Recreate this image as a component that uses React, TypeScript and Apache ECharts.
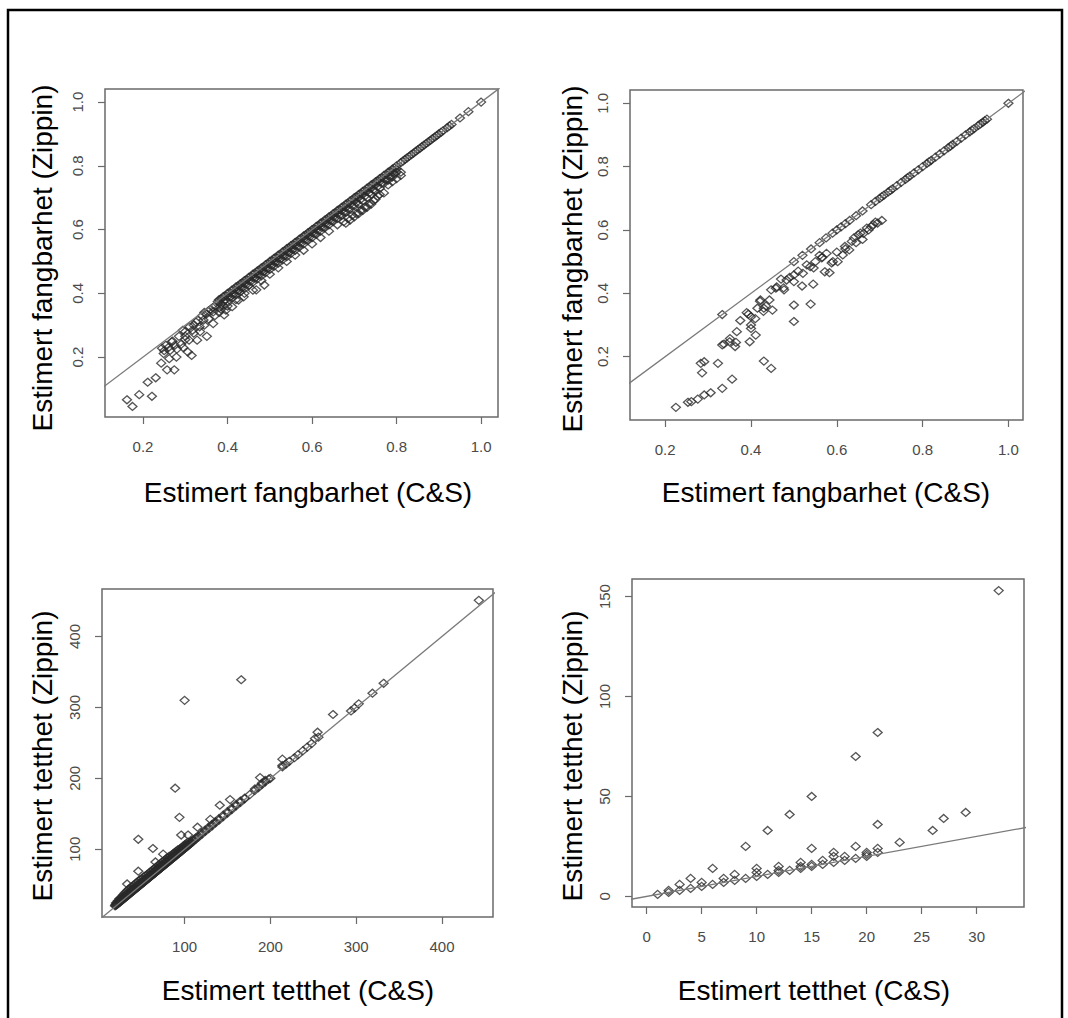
import React, { useEffect, useRef } from "react";
import * as echarts from "echarts";

// ---------- tick values ----------
const fangTicks = [0.2, 0.4, 0.6, 0.8, 1.0];
const tettTicksA = [100, 200, 300, 400];
const tettTicksBX = [0, 5, 10, 15, 20, 25, 30];
const tettTicksBY = [0, 50, 100, 150];

// ---------- titles ----------
const xTitleFang = "Estimert fangbarhet (C&S)";
const yTitleFang = "Estimert fangbarhet (Zippin)";
const xTitleTett = "Estimert tetthet (C&S)";
const yTitleTett = "Estimert tetthet (Zippin)";

// ---------- panel 1: fangbarhet (top-left) ----------
const p1Low: [number, number][] = [
  [0.162, 0.066], [0.175, 0.045], [0.191, 0.082], [0.221, 0.077], [0.211, 0.121], [0.23, 0.135],
  [0.257, 0.16], [0.274, 0.16], [0.243, 0.181], [0.262, 0.195], [0.249, 0.211], [0.264, 0.221],
  [0.279, 0.2], [0.275, 0.237], [0.254, 0.237], [0.245, 0.228], [0.268, 0.248], [0.294, 0.284],
  [0.306, 0.216], [0.315, 0.205], [0.309, 0.253], [0.328, 0.253], [0.351, 0.265], [0.317, 0.284],
  [0.334, 0.295], [0.343, 0.316], [0.366, 0.305], [0.377, 0.374], [0.366, 0.342], [0.392, 0.332],
  [0.396, 0.347], [0.411, 0.358], [0.426, 0.379], [0.438, 0.389], [0.468, 0.411], [0.487, 0.426],
  [0.285, 0.265], [0.3, 0.28], [0.31, 0.295], [0.32, 0.3], [0.33, 0.315], [0.34, 0.33], [0.35, 0.335],
  [0.36, 0.35], [0.37, 0.36], [0.29, 0.24], [0.3, 0.255], [0.32, 0.275], [0.335, 0.28], [0.345, 0.3],
  [0.355, 0.32], [0.37, 0.33], [0.385, 0.35], [0.28, 0.225], [0.295, 0.23], [0.3, 0.265], [0.26, 0.23],
  [0.25, 0.22], [0.27, 0.25], [0.325, 0.31], [0.345, 0.34], [0.355, 0.345], [0.365, 0.355],
];
const p1Band: [number, number[]][] = [
  [0.38, [0.38, 0.37, 0.355, 0.34]], [0.39, [0.39, 0.375, 0.36]], [0.4, [0.4, 0.39, 0.375, 0.36]],
  [0.41, [0.41, 0.4, 0.385]], [0.42, [0.42, 0.41, 0.395, 0.38]], [0.43, [0.43, 0.42, 0.405]],
  [0.44, [0.44, 0.43, 0.415, 0.4]], [0.45, [0.45, 0.44, 0.425]], [0.46, [0.46, 0.45, 0.435, 0.41]],
  [0.47, [0.47, 0.46, 0.445]], [0.48, [0.48, 0.47, 0.455, 0.44]], [0.49, [0.49, 0.48, 0.465]],
  [0.5, [0.5, 0.49, 0.475, 0.46]], [0.51, [0.51, 0.5, 0.485]], [0.52, [0.52, 0.51, 0.495, 0.48]],
  [0.53, [0.53, 0.52, 0.505]], [0.54, [0.54, 0.53, 0.515, 0.5]], [0.55, [0.55, 0.54, 0.525]],
  [0.56, [0.56, 0.55, 0.535, 0.52]], [0.57, [0.57, 0.56, 0.545]], [0.58, [0.58, 0.57, 0.555, 0.535]],
  [0.59, [0.59, 0.58, 0.565]], [0.6, [0.6, 0.59, 0.575, 0.555]], [0.61, [0.61, 0.6, 0.585]],
  [0.62, [0.62, 0.61, 0.595, 0.575]], [0.63, [0.63, 0.62, 0.605]], [0.64, [0.64, 0.63, 0.615, 0.595]],
  [0.65, [0.65, 0.64, 0.625]], [0.66, [0.66, 0.65, 0.635, 0.615]], [0.67, [0.67, 0.66, 0.645]],
  [0.68, [0.68, 0.67, 0.655, 0.62]], [0.69, [0.69, 0.68, 0.665, 0.63]], [0.7, [0.7, 0.69, 0.675, 0.64]],
  [0.71, [0.71, 0.7, 0.68, 0.65]], [0.72, [0.72, 0.71, 0.69, 0.66]], [0.73, [0.73, 0.72, 0.7, 0.67]],
  [0.74, [0.74, 0.73, 0.71, 0.68]], [0.75, [0.75, 0.74, 0.72, 0.695]], [0.76, [0.76, 0.75, 0.73, 0.71]],
  [0.77, [0.77, 0.76, 0.745, 0.715]], [0.78, [0.78, 0.77, 0.755, 0.74]], [0.79, [0.79, 0.78, 0.765, 0.75]],
  [0.8, [0.8, 0.79, 0.78, 0.76]], [0.81, [0.81, 0.78, 0.77]],
];
const p1BandHalf: [number, number[]][] = [
  [0.385, [0.383, 0.365]], [0.395, [0.392, 0.38]], [0.405, [0.403, 0.388]], [0.415, [0.413, 0.398]],
  [0.425, [0.423, 0.408]], [0.435, [0.433, 0.418]], [0.445, [0.443, 0.428]], [0.455, [0.453, 0.438]],
  [0.465, [0.463, 0.448]], [0.475, [0.473, 0.458]], [0.485, [0.483, 0.468]], [0.495, [0.493, 0.478]],
  [0.505, [0.503, 0.488]], [0.515, [0.513, 0.498]], [0.525, [0.523, 0.508]], [0.535, [0.533, 0.518]],
  [0.545, [0.543, 0.528]], [0.555, [0.553, 0.538]], [0.565, [0.563, 0.548]], [0.575, [0.573, 0.558]],
  [0.585, [0.583, 0.568]], [0.595, [0.593, 0.578]], [0.605, [0.603, 0.588]], [0.615, [0.613, 0.598]],
  [0.625, [0.623, 0.608]], [0.635, [0.633, 0.618]], [0.645, [0.643, 0.628]], [0.655, [0.653, 0.638]],
  [0.665, [0.663, 0.645]], [0.675, [0.673, 0.655, 0.625]], [0.685, [0.683, 0.665, 0.635]],
  [0.695, [0.693, 0.675, 0.645]], [0.705, [0.703, 0.685, 0.65]], [0.715, [0.713, 0.695, 0.66]],
  [0.725, [0.723, 0.705, 0.67]], [0.735, [0.733, 0.715, 0.68]], [0.745, [0.743, 0.725, 0.69]],
  [0.755, [0.753, 0.735, 0.705]], [0.765, [0.763, 0.745]], [0.775, [0.773, 0.755]],
  [0.785, [0.783, 0.765]], [0.795, [0.793, 0.775]],
];
const p1Diag = [
  0.815, 0.82, 0.825, 0.83, 0.835, 0.84, 0.845, 0.85, 0.855, 0.86, 0.865, 0.87, 0.875, 0.88, 0.885, 0.89,
  0.895, 0.9, 0.905, 0.91, 0.92, 0.925, 0.93, 0.95, 0.97, 1.0,
];

// ---------- panel 2: fangbarhet (top-right) ----------
const p2Diag = [
  0.333, 0.5, 0.52, 0.54, 0.56, 0.575, 0.59, 0.6, 0.61, 0.62, 0.63, 0.645, 0.66, 0.68, 0.69, 0.7, 0.705,
  0.71, 0.72, 0.725, 0.73, 0.74, 0.75, 0.76, 0.765, 0.77, 0.78, 0.79, 0.8, 0.81, 0.815, 0.82, 0.83, 0.84,
  0.85, 0.86, 0.865, 0.87, 0.88, 0.89, 0.9, 0.91, 0.915, 0.92, 0.93, 0.935, 0.94, 0.945, 0.95, 1.0,
];
const p2Off: [number, number][] = [
  [0.225, 0.04], [0.253, 0.056], [0.261, 0.058], [0.276, 0.066], [0.291, 0.079], [0.306, 0.086],
  [0.333, 0.1], [0.356, 0.129], [0.286, 0.149], [0.283, 0.179], [0.291, 0.184], [0.323, 0.179],
  [0.43, 0.186], [0.447, 0.163], [0.333, 0.237], [0.337, 0.24], [0.363, 0.232], [0.35, 0.247],
  [0.367, 0.279], [0.375, 0.314], [0.397, 0.247], [0.411, 0.268], [0.4, 0.289], [0.4, 0.326],
  [0.39, 0.339], [0.415, 0.353], [0.43, 0.353], [0.422, 0.379], [0.45, 0.347], [0.443, 0.379],
  [0.447, 0.411], [0.458, 0.416], [0.477, 0.411], [0.483, 0.442], [0.5, 0.437], [0.5, 0.458],
  [0.5, 0.363], [0.5, 0.311], [0.539, 0.366], [0.519, 0.423], [0.521, 0.463], [0.545, 0.429],
  [0.538, 0.484], [0.566, 0.514], [0.572, 0.468], [0.576, 0.526], [0.583, 0.465], [0.591, 0.5],
  [0.602, 0.5], [0.614, 0.521], [0.629, 0.537], [0.619, 0.548], [0.635, 0.564], [0.65, 0.585],
  [0.662, 0.589], [0.67, 0.606], [0.674, 0.6], [0.685, 0.617], [0.695, 0.622], [0.705, 0.63],
  [0.66, 0.57], [0.645, 0.56], [0.365, 0.245], [0.351, 0.257], [0.394, 0.334], [0.421, 0.375],
  [0.429, 0.343], [0.476, 0.417], [0.546, 0.48], [0.565, 0.512], [0.588, 0.496], [0.4, 0.3],
  [0.41, 0.32], [0.435, 0.36], [0.46, 0.42], [0.47, 0.445], [0.49, 0.45], [0.51, 0.47], [0.53, 0.49],
  [0.55, 0.5], [0.56, 0.52], [0.6, 0.53], [0.62, 0.54], [0.64, 0.575], [0.655, 0.59], [0.68, 0.61],
  [0.69, 0.625],
];

// ---------- panel 3: tetthet (bottom-left) ----------
const p3Band: [number, number[]][] = [
  [19, [20, 21]], [20, [21, 22, 24]], [21, [22, 24]], [22, [23, 25, 27]], [23, [24, 26]], [24, [25, 28, 30]],
  [25, [26, 28]], [26, [27, 29, 32]], [27, [28, 31]], [28, [29, 31, 35]], [29, [30, 33]], [30, [31, 34, 38]],
  [31, [32, 35]], [32, [33, 36, 40]], [33, [34, 37]], [34, [35, 38, 43]], [35, [36, 39]], [36, [37, 40, 45]],
  [37, [38, 41]], [38, [39, 42, 47]], [39, [40, 43]], [40, [41, 44, 49]], [41, [42, 45]],
  [42, [43, 46, 50]], [43, [44, 47]], [44, [45, 48, 53]], [45, [46, 49]], [46, [47, 50, 55]], [47, [48, 51]],
  [48, [49, 52, 57]], [49, [50, 53]], [50, [51, 54, 58]], [51, [52, 55]],
  [52, [53, 56, 61]], [53, [54, 57]], [54, [55, 58, 62]], [55, [56, 59]], [56, [57, 60, 64]], [57, [58, 61]],
  [58, [59, 62, 66]], [59, [60, 63]], [60, [61, 64, 68]], [61, [62, 65]],
  [62, [63, 66, 70]], [63, [64, 67]], [64, [65, 68, 72]], [65, [66, 69]], [66, [67, 70, 74]], [67, [68, 71]],
  [68, [69, 72, 76]], [69, [70, 73]], [70, [71, 74, 78]], [71, [72, 75]],
  [72, [73, 76, 80]], [73, [74, 77]], [74, [75, 78, 82]], [75, [76, 79]], [76, [77, 80, 84]], [77, [78, 81]],
  [78, [79, 82, 86]], [79, [80, 83]], [80, [81, 84, 88]], [81, [82, 85]],
  [82, [83, 86, 90]], [83, [84, 87]], [84, [85, 88, 91]], [85, [86, 89]], [86, [87, 90, 93]], [87, [88, 91]],
  [88, [89, 92, 95]], [89, [90, 93]], [90, [91, 93, 97]], [91, [92, 94]],
  [92, [93, 95, 99]], [93, [94, 96]], [94, [95, 97, 100]], [95, [96, 98]], [96, [97, 99, 102]], [97, [98, 100]],
  [98, [99, 101, 104]], [99, [100, 102]], [100, [101, 103, 106]], [101, [102, 104]],
  [102, [103, 105, 108]], [103, [104, 106]], [104, [105, 107, 110]], [105, [106, 108]], [106, [107, 109]],
  [107, [108, 110]], [108, [109, 111]], [110, [111, 113]],
  [113, [114, 116]], [116, [117, 119]], [120, [121, 123]], [124, [125, 127]], [128, [129, 131]],
  [132, [133, 135]], [136, [137, 139]], [140, [141, 143]], [145, [146, 148]], [150, [151, 153]],
  [155, [156, 158]], [160, [161, 163]], [165, [166, 168]], [170, [171, 172]], [176, [177]], [182, [183, 185]],
  [186, [187]], [190, [191, 193]], [194, [195, 197]], [198, [199]], [200, [200]], [214, [216, 218]],
  [218, [220]], [222, [224]], [228, [229]], [232, [233]], [238, [239]], [243, [244]], [248, [249]],
  [252, [256]], [256, [258]], [294, [295]], [298, [299]], [303, [305]], [319, [320]], [332, [334]],
];
const p3Out: [number, number][] = [
  [46, 114], [63, 101], [46, 69], [33, 51], [66, 82], [75, 93], [89, 186], [94, 145], [96, 120],
  [104, 120], [100, 310], [166, 339], [115, 131], [130, 142], [141, 162], [153, 170], [188, 201],
  [214, 227], [255, 265], [273, 290], [443, 451],
];

// ---------- panel 4: tetthet (bottom-right) ----------
const p4Points: [number, number][] = [
  [1, 1], [2, 2], [2, 3], [3, 6], [3, 3], [4, 9], [4, 4], [5, 7], [5, 5], [6, 14], [6, 6], [7, 9], [7, 7],
  [8, 11], [8, 8], [9, 25], [9, 9], [10, 14], [10, 12], [10, 10], [11, 33], [11, 11], [12, 15], [12, 13],
  [12, 12], [13, 41], [13, 13], [14, 17], [14, 15], [14, 14], [15, 50], [15, 24], [15, 16], [15, 15],
  [16, 18], [16, 16], [17, 22], [17, 20], [17, 17], [18, 20], [18, 18], [19, 70], [19, 25], [19, 19],
  [20, 22], [20, 21], [20, 20], [21, 82], [21, 36], [21, 24], [21, 22], [23, 27], [26, 33], [27, 39],
  [29, 42], [32, 153],
];

// abline(0, 1) endpoints (clipped by the plot region)
const ablineEnds = [-1000, 1000];

const flat = (band: [number, number[]][]) =>
  band.flatMap(([x, ys]) => ys.map((y) => [x, y] as [number, number]));
const diag = (vals: number[]) => vals.map((v) => [v, v] as [number, number]);

const p1Data = [...p1Low, ...flat(p1Band), ...flat(p1BandHalf), ...diag(p1Diag)];
const p2Data = [...p2Off, ...diag(p2Diag)];
const p3Data = [...flat(p3Band), ...p3Out];
const p4Data = p4Points;

const FONT = "'Liberation Sans', Arial, sans-serif";

const panels = [
  {
    grid: { left: 105, top: 89, width: 393, height: 328 },
    xr: [0.11, 1.04], yr: [0.012, 1.041], xt: fangTicks, yt: fangTicks,
    fmt: (v: number) => v.toFixed(1), data: p1Data,
    xTitle: xTitleFang, yTitle: yTitleFang, xPos: [308, 492], yPos: [42, 258],
  },
  {
    grid: { left: 630, top: 90, width: 393, height: 330 },
    xr: [0.118, 1.034], yr: [0.0, 1.042], xt: fangTicks, yt: fangTicks,
    fmt: (v: number) => v.toFixed(1), data: p2Data,
    xTitle: xTitleFang, yTitle: yTitleFang, xPos: [826, 492], yPos: [572, 259],
  },
  {
    grid: { left: 102, top: 589, width: 391, height: 328 },
    xr: [3.7, 459.5], yr: [4.4, 467], xt: tettTicksA, yt: tettTicksA,
    fmt: (v: number) => String(v), data: p3Data,
    xTitle: xTitleTett, yTitle: yTitleTett, xPos: [298, 990], yPos: [42, 756],
  },
  {
    grid: { left: 632, top: 579, width: 392, height: 328 },
    xr: [-1.33, 34.3], yr: [-5.3, 158.8], xt: tettTicksBX, yt: tettTicksBY,
    fmt: (v: number) => String(v), data: p4Data,
    xTitle: xTitleTett, yTitle: yTitleTett, xPos: [814, 990], yPos: [572, 756],
  },
];

export default function App() {
  const ref = useRef<HTMLDivElement>(null);
  useEffect(() => {
    if (!ref.current) return;
    const chart = echarts.init(ref.current, undefined, { renderer: "svg" });
    const tickLabel = { fontSize: 15, color: "#4a4a4a", fontFamily: FONT };
    const option: any = {
      animation: false,
      backgroundColor: "#ffffff",
      grid: panels.map((p) => ({
        ...p.grid,
        show: true,
        borderColor: "#6a6a6a",
        borderWidth: 1.5,
        backgroundColor: "transparent",
        containLabel: false,
      })),
      xAxis: panels.map((p, i) => ({
        type: "value",
        gridIndex: i,
        min: p.xr[0],
        max: p.xr[1],
        axisLine: { show: false, onZero: false },
        splitLine: { show: false },
        axisTick: { show: true, length: 7, customValues: p.xt, lineStyle: { color: "#6a6a6a", width: 1.2 } },
        axisLabel: { ...tickLabel, margin: 22, customValues: p.xt, formatter: p.fmt },
      })),
      yAxis: panels.map((p, i) => ({
        type: "value",
        gridIndex: i,
        min: p.yr[0],
        max: p.yr[1],
        axisLine: { show: false, onZero: false },
        splitLine: { show: false },
        axisTick: { show: true, length: 7, customValues: p.yt, lineStyle: { color: "#6a6a6a", width: 1.2 } },
        axisLabel: { ...tickLabel, margin: 20, rotate: 90, customValues: p.yt, formatter: p.fmt },
      })),
      series: panels.flatMap((p, i) => [
        {
          type: "line",
          xAxisIndex: i,
          yAxisIndex: i,
          data: [[ablineEnds[0], ablineEnds[0]], [ablineEnds[1], ablineEnds[1]]],
          symbol: "none",
          clip: true,
          silent: true,
          lineStyle: { color: "#7a7a7a", width: 1.3 },
        },
        {
          type: "scatter",
          xAxisIndex: i,
          yAxisIndex: i,
          data: p.data,
          symbol: "diamond",
          symbolSize: [9, 8],
          silent: true,
          itemStyle: { color: "rgba(0,0,0,0)", borderColor: "#2a2a2a", borderWidth: 1.3 },
        },
      ]),
      graphic: [
        {
          type: "rect",
          shape: { x: 8, y: 10, width: 1054, height: 1030 },
          style: { fill: "none", stroke: "#000", lineWidth: 2.5 },
          silent: true,
        },
        ...panels.flatMap((p) => [
          {
            type: "text",
            x: p.xPos[0],
            y: p.xPos[1],
            style: {
              text: p.xTitle, fontSize: 28, fontFamily: FONT, fill: "#000",
              textAlign: "center", textVerticalAlign: "middle",
            },
          },
          {
            type: "text",
            x: p.yPos[0],
            y: p.yPos[1],
            rotation: Math.PI / 2,
            style: {
              text: p.yTitle, fontSize: 28, fontFamily: FONT, fill: "#000",
              textAlign: "center", textVerticalAlign: "middle",
            },
          },
        ]),
      ],
    };
    chart.setOption(option);
    return () => chart.dispose();
  }, []);
  return (
    <div
      ref={ref}
      style={{ position: "fixed", left: 0, top: 0, width: 1068, height: 1018, background: "#fff" }}
    />
  );
}
